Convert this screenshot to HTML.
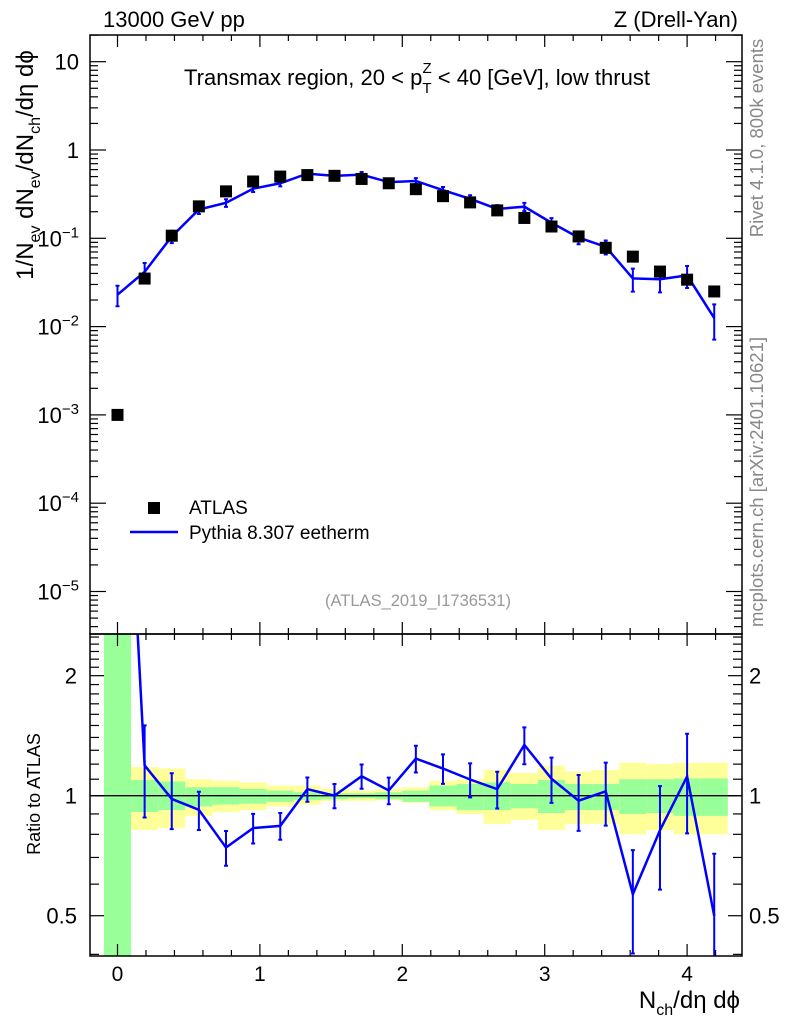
<!DOCTYPE html>
<html><head><meta charset="utf-8"><style>
html,body{margin:0;padding:0;background:#fff;}
svg{display:block;font-family:"Liberation Sans",sans-serif;}
</style></head><body>
<svg id="c" width="786" height="1024" viewBox="0 0 786 1024" xmlns="http://www.w3.org/2000/svg">
<g id="bands"></g>
<g id="ticks"></g>
<g id="series"></g>
<rect x="90" y="35" width="652" height="599" fill="none" stroke="#000" stroke-width="1.5"/>
<rect x="90" y="634" width="652" height="322" fill="none" stroke="#000" stroke-width="1.5"/>
<text x="103" y="27" font-size="22">13000 GeV pp</text>
<text x="738" y="27" font-size="22" text-anchor="end">Z (Drell-Yan)</text>
<text x="417" y="85" font-size="22" text-anchor="middle">Transmax region, 20 &lt; p<tspan font-size="15" dy="8">T</tspan><tspan font-size="15" dx="-9" dy="-20">Z</tspan><tspan dy="12"> &lt; 40 [GeV], low thrust</tspan></text>
<text transform="translate(33,165) rotate(-90)" font-size="24" text-anchor="middle">1/N<tspan font-size="16" dy="7">ev</tspan><tspan dy="-7"> dN</tspan><tspan font-size="16" dy="7">ev</tspan><tspan dy="-7">/dN</tspan><tspan font-size="16" dy="7">ch</tspan><tspan dy="-7">/dη dϕ</tspan></text>
<text transform="translate(40,794) rotate(-90)" font-size="18" text-anchor="middle">Ratio to ATLAS</text>
<text x="740" y="1008" font-size="24" text-anchor="end">N<tspan font-size="16" dy="7">ch</tspan><tspan dy="-7">/dη dϕ</tspan></text>
<text transform="translate(763,138) rotate(-90)" font-size="18.5" fill="#888" text-anchor="middle">Rivet 4.1.0,  800k events</text>
<text transform="translate(763,482) rotate(-90)" font-size="18.5" fill="#888" text-anchor="middle">mcplots.cern.ch [arXiv:2401.10621]</text>
<text x="418" y="606" font-size="16.5" fill="#999" text-anchor="middle">(ATLAS_2019_I1736531)</text>
<g>
<rect x="148" y="502" width="12" height="12" fill="#000"/>
<text x="189" y="514" font-size="19">ATLAS</text>
<line x1="130" y1="532" x2="178" y2="532" stroke="#00f" stroke-width="2.5"/>
<text x="189" y="539" font-size="19">Pythia 8.307 eetherm</text>
</g>
</svg>
<script>
const xCenters=[0,0.1905,0.381,0.5714,0.7619,0.9524,1.1429,1.3333,1.5238,1.7143,1.9048,2.0952,2.2857,2.4762,2.6667,2.8571,3.0476,3.2381,3.4286,3.619,3.8095,4.0,4.1905];
const atlasVals=[0.001,0.035,0.107,0.23,0.34,0.44,0.50,0.52,0.51,0.47,0.42,0.36,0.30,0.255,0.207,0.17,0.136,0.105,0.078,0.062,0.042,0.034,0.025];
const pythiaVals=[0.023,0.0417,0.105,0.212,0.252,0.365,0.42,0.54,0.51,0.526,0.433,0.446,0.351,0.28,0.215,0.228,0.15,0.102,0.080,0.0351,0.0344,0.038,0.0125];
const pythiaRelErr=[0.26,0.26,0.16,0.11,0.10,0.085,0.077,0.07,0.07,0.07,0.077,0.077,0.085,0.098,0.106,0.106,0.13,0.16,0.18,0.29,0.29,0.28,0.43];
const yellowUp=[null,1.18,1.17,1.10,1.09,1.08,1.06,1.06,1.04,1.03,1.04,1.05,1.09,1.10,1.16,1.14,1.19,1.15,1.16,1.21,1.20,1.21,1.21];
const yellowLo=[null,0.82,0.83,0.89,0.91,0.92,0.94,0.95,0.97,0.97,0.975,0.96,0.92,0.90,0.85,0.87,0.82,0.85,0.85,0.80,0.82,0.80,0.80];
const greenUp=[10,1.095,1.085,1.05,1.05,1.04,1.03,1.02,1.014,1.014,1.02,1.03,1.06,1.07,1.08,1.07,1.095,1.07,1.07,1.10,1.10,1.105,1.105];
const greenLo=[0.1,0.91,0.92,0.94,0.95,0.955,0.965,0.975,0.98,0.985,0.98,0.965,0.94,0.92,0.92,0.93,0.905,0.92,0.92,0.90,0.905,0.89,0.89];
const mainTicks=[1,0,-1,-2,-3,-4,-5];
const ratioTicks=[2,1,0.5];
const xTicks=[0,1,2,3,4];

const NS="http://www.w3.org/2000/svg";
const X=v=>117.5+v*142.4;
const Y=v=>61.7-(Math.log10(v)-1)*88.3;
const R=v=>795.7-Math.log10(v)*398.7;
const halfW=0.0952;
function mk(parent,tag,attrs){const e=document.createElementNS(NS,tag);for(const k in attrs)e.setAttribute(k,attrs[k]);parent.appendChild(e);return e;}
const bands=document.getElementById('bands'),ticks=document.getElementById('ticks'),series=document.getElementById('series');
const clipR=v=>Math.max(634,Math.min(956,R(v)));

xCenters.forEach((c,i)=>{
  let x0=Math.max(90,X(c-halfW)),x1=X(c+halfW);
  if(yellowUp[i]!==null){
    const y=mk(bands,'rect',{x:x0,y:clipR(yellowUp[i]),width:x1-x0,height:clipR(yellowLo[i])-clipR(yellowUp[i]),fill:'#ffff99'});
    
    
  }
  const g=mk(bands,'rect',{x:x0,y:clipR(greenUp[i]),width:x1-x0,height:clipR(greenLo[i])-clipR(greenUp[i]),fill:'#99ff99'});
  
  
});
const ref=mk(bands,'line',{x1:90,x2:742,y1:R(1),y2:R(1),stroke:'#000','stroke-width':1.3});



function tk(x1,y1,x2,y2){const l=mk(ticks,'line',{x1,y1,x2,y2,stroke:'#000','stroke-width':1.2});}
for(let v=-0.0;v<=4.35;v+=0.2){const vv=Math.round(v*10)/10;const x=X(vv);const maj=Math.abs(vv-Math.round(vv))<1e-6;const L=maj?12:6;
  tk(x,35,x,35+L);tk(x,634,x,634-L);tk(x,634,x,634+L);tk(x,956,x,956-L);}
xTicks.forEach(v=>{const t=mk(ticks,'text',{x:X(v),y:981,'font-size':21,'text-anchor':'middle'});t.textContent=String(v);
  });
for(let d=-6;d<=1;d++){for(let m=1;m<10;m++){const v=m*Math.pow(10,d);const y=Y(v);if(y<35||y>634)continue;const L=m===1?16:8;tk(90,y,90+L,y);tk(742,y,742-L,y);}}
mainTicks.forEach(e=>{const y=Y(Math.pow(10,e));const t=mk(ticks,'text',{x:79,y:y+8,'font-size':22,'text-anchor':'end'});
  if(e===1)t.textContent='10';else if(e===0)t.textContent='1';else{t.textContent='10';const s=mk(t,'tspan',{'font-size':15,dy:-9});s.textContent='−'+(-e);}
  });
for(let m=3;m<=25;m++){const v=m/10;const y=R(v);if(y<634||y>956)continue;const L=(v===1||v===2||v===0.5)?14:9;tk(90,y,90+L,y);tk(742,y,742-L,y);}
ratioTicks.forEach(v=>{const y=R(v)+8;
  const a=mk(ticks,'text',{x:77,y,'font-size':22,'text-anchor':'end'});a.textContent=String(v);
  
  const b=mk(ticks,'text',{x:749,y,'font-size':22});b.textContent=String(v);
  });

const pl=mk(series,'polyline',{points:xCenters.map((c,i)=>X(c)+','+Y(pythiaVals[i])).join(' '),fill:'none',stroke:'#00f','stroke-width':2.5});


xCenters.forEach((c,i)=>{
  const x=X(c),lo=Y(pythiaVals[i]*(1-pythiaRelErr[i])),hi=Y(pythiaVals[i]*(1+pythiaRelErr[i]));
  const e=mk(series,'path',{d:`M${x},${lo}V${hi}M${x-2},${lo}h4M${x-2},${hi}h4`,stroke:'#00f','stroke-width':2,fill:'none'});
  
  
  const p=mk(series,'rect',{x:x-6,y:Y(atlasVals[i])-6,width:12,height:12,fill:'#000'});
  
  
});
const cp=mk(document.getElementById('c'),'clipPath',{id:'rclip'});mk(cp,'rect',{x:90,y:634,width:652,height:322});
const rg=mk(series,'g',{'clip-path':'url(#rclip)'});
const ratios=xCenters.map((c,i)=>pythiaVals[i]/atlasVals[i]);
const rl=mk(rg,'polyline',{points:xCenters.map((c,i)=>X(c)+','+R(Math.min(ratios[i],30))).join(' '),fill:'none',stroke:'#00f','stroke-width':2.5});


xCenters.forEach((c,i)=>{if(i===0)return;
  const x=X(c),lo=R(ratios[i]*(1-pythiaRelErr[i])),hi=R(ratios[i]*(1+pythiaRelErr[i]));
  const e=mk(rg,'path',{d:`M${x},${lo}V${hi}M${x-2},${lo}h4M${x-2},${hi}h4`,stroke:'#00f','stroke-width':2,fill:'none'});
  
  
});
</script>
</body></html>
